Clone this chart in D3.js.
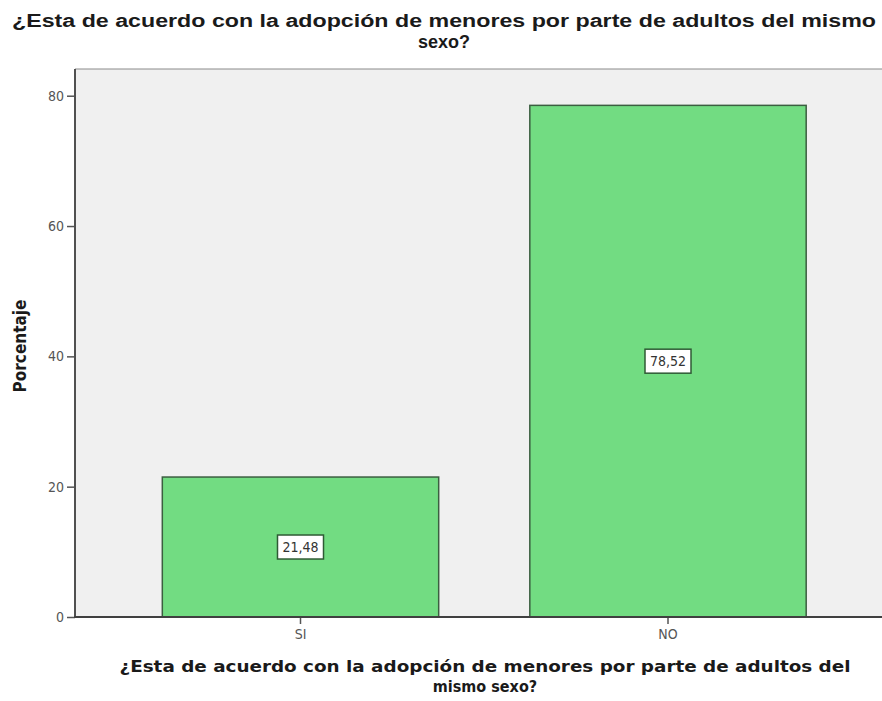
<!DOCTYPE html>
<html><head><meta charset="utf-8">
<script src="https://cdn.jsdelivr.net/npm/d3@7"></script>
<style>body{margin:0;background:#fff}svg{display:block}</style>
</head><body>
<svg id="c" width="882" height="701"></svg>
<script>
const categories = ["SI", "NO"];
const values = [21.48, 78.52];
const valueLabels = ["21,48", "78,52"];
const yTicks = [0, 20, 40, 60, 80];
const titleLines = ["¿Esta de acuerdo con la adopción de menores por parte de adultos del mismo", "sexo?"];
const xTitleLines = ["¿Esta de acuerdo con la adopción de menores por parte de adultos del", "mismo sexo?"];
const yTitle = "Porcentaje";

const svg = d3.select("#c");
const L = 75, T = 69, B = 617, R = 900;
const y = d3.scaleLinear().domain([0, 84.1]).range([B, T]);
const x = d3.scaleBand().domain(categories).range([116.75, 851.75]).paddingInner(0.248).paddingOuter(0.124);
const font = "'Liberation Sans', Arial, sans-serif";
const narrow = "'Liberation Sans Narrow', 'DejaVu Sans Condensed', sans-serif";
const cond = "'DejaVu Sans Condensed', 'DejaVu Sans', sans-serif";

svg.append("rect").attr("x", L).attr("y", T).attr("width", R - L).attr("height", B - T).attr("fill", "#f0f0f0");
svg.append("line").attr("x1", L).attr("x2", R).attr("y1", T).attr("y2", T).attr("stroke", "#8a8a8a").attr("stroke-width", 1);

svg.selectAll("rect.bar").data(values).join("rect").attr("class", "bar")
  .attr("x", (d, i) => x(categories[i])).attr("width", x.bandwidth())
  .attr("y", d => y(d)).attr("height", d => B - y(d))
  .attr("fill", "#72dc82").attr("stroke", "#3b5e40").attr("stroke-width", 1.5);

// axes
const ya = svg.append("g").attr("transform", `translate(${L},0)`).call(d3.axisLeft(y).tickValues(yTicks).tickSize(8).tickPadding(3));
ya.select(".domain").remove();
ya.selectAll("line").attr("stroke", "#555").attr("stroke-width", 1.5);
ya.selectAll("text").attr("fill", "#555").attr("font-family", narrow).attr("font-size", 14);
svg.append("line").attr("x1", L).attr("x2", L).attr("y1", T).attr("y2", B + 1).attr("stroke", "#505050").attr("stroke-width", 2);

const xa = svg.append("g").attr("transform", `translate(0,${B})`).call(d3.axisBottom(x).tickSize(7).tickPadding(5));
xa.select(".domain").remove();
xa.selectAll("line").attr("stroke", "#555").attr("stroke-width", 1.5);
xa.selectAll("text").attr("fill", "#555").attr("font-family", narrow).attr("font-size", 14);
svg.append("line").attr("x1", L - 1).attr("x2", R).attr("y1", B).attr("y2", B).attr("stroke", "#404040").attr("stroke-width", 2);

// value labels
const lg = svg.selectAll("g.vl").data(values).join("g").attr("class", "vl")
  .attr("transform", (d, i) => `translate(${x(categories[i]) + x.bandwidth() / 2},${y(d / 2)})`);
lg.append("rect").attr("x", -23).attr("y", -12).attr("width", 46).attr("height", 24)
  .attr("fill", "#fff").attr("stroke", "#2f5a35").attr("stroke-width", 1.5);
lg.append("text").attr("text-anchor", "middle").attr("dy", "0.35em")
  .attr("font-family", narrow).attr("font-size", 14).attr("fill", "#333")
  .text((d, i) => valueLabels[i]);

// titles
svg.append("text").attr("x", 444).attr("y", 27).attr("text-anchor", "middle")
  .attr("font-family", font).attr("font-weight", "bold").attr("font-size", 18).attr("fill", "#1a1a1a")
  .attr("textLength", 864).attr("lengthAdjust", "spacingAndGlyphs").text(titleLines[0]);
svg.append("text").attr("x", 444).attr("y", 48).attr("text-anchor", "middle")
  .attr("font-family", font).attr("font-weight", "bold").attr("font-size", 18).attr("fill", "#1a1a1a").text(titleLines[1]);

svg.append("text").attr("x", 485).attr("y", 672).attr("text-anchor", "middle")
  .attr("font-family", cond).attr("font-weight", "bold").attr("font-size", 16).attr("fill", "#1a1a1a")
  .attr("textLength", 731).attr("lengthAdjust", "spacingAndGlyphs").text(xTitleLines[0]);
svg.append("text").attr("x", 485).attr("y", 692).attr("text-anchor", "middle")
  .attr("font-family", cond).attr("font-weight", "bold").attr("font-size", 16).attr("fill", "#1a1a1a").text(xTitleLines[1]);

svg.append("text").attr("transform", "translate(26,346) rotate(-90)").attr("text-anchor", "middle")
  .attr("font-family", cond).attr("font-weight", "bold").attr("font-size", 17).attr("fill", "#1a1a1a").text(yTitle);
</script>
</body></html>
